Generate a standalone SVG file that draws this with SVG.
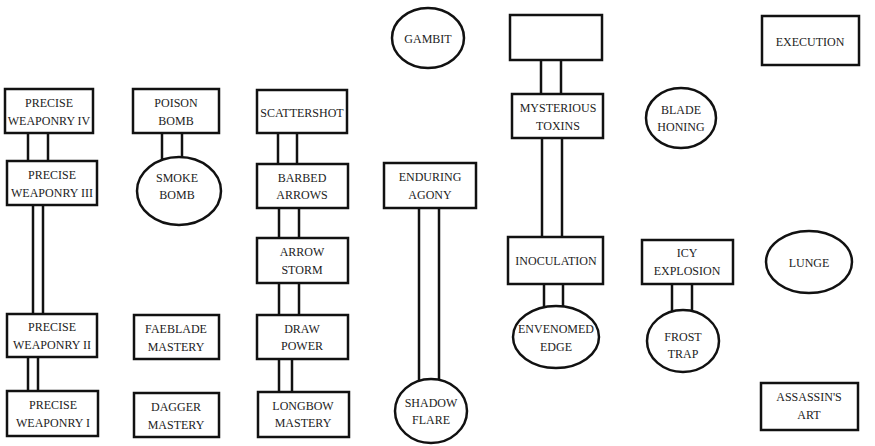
<svg xmlns="http://www.w3.org/2000/svg" width="875" height="446" viewBox="0 0 875 446">
<style>
.n{fill:#fff;stroke:#111;stroke-width:2.5}
.c line{stroke:#111;stroke-width:2.5}
text{font-family:"Liberation Serif","Noto Serif","DejaVu Serif","FreeSerif",Times,serif;font-size:12px;fill:#222;text-anchor:middle}
</style>
<rect width="875" height="446" fill="#fff"/>
<g id="connectors" class="c">
<line x1="28" y1="133" x2="28" y2="161"/><line x1="48" y1="133" x2="48" y2="161"/>
<line x1="33" y1="205" x2="33" y2="314"/><line x1="43" y1="205" x2="43" y2="314"/>
<line x1="28" y1="357" x2="28" y2="391"/><line x1="38" y1="357" x2="38" y2="391"/>
<line x1="162" y1="133" x2="162" y2="162"/><line x1="182" y1="133" x2="182" y2="162"/>
<line x1="278" y1="133" x2="278" y2="164"/><line x1="297" y1="133" x2="297" y2="164"/>
<line x1="279" y1="208" x2="279" y2="238"/><line x1="299" y1="208" x2="299" y2="238"/>
<line x1="279" y1="283" x2="279" y2="315"/><line x1="299" y1="283" x2="299" y2="315"/>
<line x1="279" y1="359" x2="279" y2="392"/><line x1="292" y1="359" x2="292" y2="392"/>
<line x1="419" y1="208" x2="419" y2="381"/><line x1="439" y1="208" x2="439" y2="381"/>
<line x1="541" y1="60" x2="541" y2="95"/><line x1="561" y1="60" x2="561" y2="95"/>
<line x1="542" y1="138" x2="542" y2="237"/><line x1="562" y1="138" x2="562" y2="237"/>
<line x1="544" y1="284" x2="544" y2="308"/><line x1="563" y1="284" x2="563" y2="308"/>
<line x1="672" y1="284" x2="672" y2="312"/><line x1="692" y1="284" x2="692" y2="312"/>
</g>
<g id="precise-weaponry-iv"><rect class="n" x="5" y="89" width="88" height="44"/><text x="49" y="107">PRECISE</text><text x="49" y="125">WEAPONRY IV</text></g>
<g id="precise-weaponry-iii"><rect class="n" x="7" y="161" width="90" height="44"/><text x="52" y="179">PRECISE</text><text x="52" y="197">WEAPONRY III</text></g>
<g id="precise-weaponry-ii"><rect class="n" x="7" y="314" width="90" height="43"/><text x="52" y="331">PRECISE</text><text x="52" y="349">WEAPONRY II</text></g>
<g id="precise-weaponry-i"><rect class="n" x="7" y="391" width="91" height="45"/><text x="53" y="409">PRECISE</text><text x="53" y="427">WEAPONRY I</text></g>
<g id="poison-bomb"><rect class="n" x="133" y="89" width="86" height="44"/><text x="176" y="107">POISON</text><text x="176" y="125">BOMB</text></g>
<g id="smoke-bomb"><ellipse class="n" cx="179" cy="191" rx="42" ry="34"/><text x="177" y="182">SMOKE</text><text x="177" y="199">BOMB</text></g>
<g id="faeblade-mastery"><rect class="n" x="134" y="315" width="85" height="44"/><text x="176" y="333">FAEBLADE</text><text x="176" y="351">MASTERY</text></g>
<g id="dagger-mastery"><rect class="n" x="134" y="393" width="85" height="44"/><text x="176" y="411">DAGGER</text><text x="176" y="429">MASTERY</text></g>
<g id="scattershot"><rect class="n" x="257" y="90" width="90" height="43"/><text x="302" y="117">SCATTERSHOT</text></g>
<g id="barbed-arrows"><rect class="n" x="257" y="164" width="91" height="44"/><text x="302" y="182">BARBED</text><text x="302" y="199">ARROWS</text></g>
<g id="arrow-storm"><rect class="n" x="257" y="238" width="91" height="45"/><text x="302" y="256">ARROW</text><text x="302" y="274">STORM</text></g>
<g id="draw-power"><rect class="n" x="257" y="315" width="91" height="44"/><text x="302" y="333">DRAW</text><text x="302" y="350">POWER</text></g>
<g id="longbow-mastery"><rect class="n" x="258" y="392" width="91" height="45"/><text x="303" y="410">LONGBOW</text><text x="303" y="427">MASTERY</text></g>
<g id="gambit"><ellipse class="n" cx="428" cy="38" rx="36" ry="30"/><text x="428" y="43">GAMBIT</text></g>
<g id="enduring-agony"><rect class="n" x="384" y="163" width="92" height="45"/><text x="430" y="181">ENDURING</text><text x="430" y="199">AGONY</text></g>
<g id="shadow-flare"><ellipse class="n" cx="431" cy="411" rx="36" ry="32"/><text x="431" y="407">SHADOW</text><text x="431" y="424">FLARE</text></g>
<g id="unnamed"><rect class="n" x="510" y="15" width="92" height="45"/></g>
<g id="mysterious-toxins"><rect class="n" x="512" y="94" width="91" height="44"/><text x="558" y="112">MYSTERIOUS</text><text x="558" y="130">TOXINS</text></g>
<g id="inoculation"><rect class="n" x="508" y="237" width="95" height="47"/><text x="556" y="265">INOCULATION</text></g>
<g id="envenomed-edge"><ellipse class="n" cx="556" cy="337" rx="43" ry="31"/><text x="556" y="333">ENVENOMED</text><text x="556" y="351">EDGE</text></g>
<g id="blade-honing"><ellipse class="n" cx="681" cy="118" rx="35" ry="30"/><text x="681" y="114">BLADE</text><text x="681" y="131">HONING</text></g>
<g id="icy-explosion"><rect class="n" x="642" y="240" width="91" height="44"/><text x="687" y="257">ICY</text><text x="687" y="275">EXPLOSION</text></g>
<g id="frost-trap"><ellipse class="n" cx="683" cy="341" rx="36" ry="31"/><text x="683" y="341">FROST</text><text x="683" y="358">TRAP</text></g>
<g id="execution"><rect class="n" x="762" y="16" width="97" height="49"/><text x="810" y="46">EXECUTION</text></g>
<g id="lunge"><ellipse class="n" cx="809" cy="262" rx="43" ry="31"/><text x="809" y="267">LUNGE</text></g>
<g id="assassins-art"><rect class="n" x="761" y="383" width="97" height="47"/><text x="809" y="401">ASSASSIN'S</text><text x="809" y="419">ART</text></g>
</svg>
